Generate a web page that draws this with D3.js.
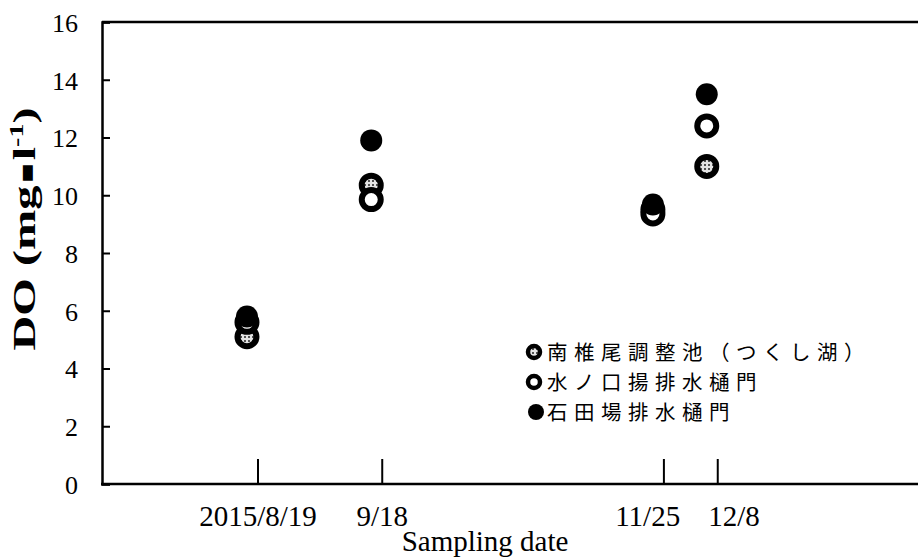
<!DOCTYPE html>
<html>
<head>
<meta charset="utf-8">
<script src="https://cdn.jsdelivr.net/npm/d3@7/dist/d3.min.js"></script>
<style>
  html, body { margin: 0; padding: 0; background: #fff; }
  svg { display: block; }
</style>
</head>
<body>
<svg id="chart" width="918" height="559"></svg>
<script>
// Sampling dates and dissolved oxygen (mg/l) at each site
const sampleDates = ["2015-08-19", "2015-09-18", "2015-11-25", "2015-12-08"];
const tickLabels = ["2015/8/19", "9/18", "11/25", "12/8"];
const seriesNames = ["南椎尾調整池（つくし湖）", "水ノ口揚排水樋門", "石田場排水樋門"];
const minamiShiio = [5.1, 10.35, 9.5, 11.0];
const mizunokuchi = [5.6, 9.85, 9.35, 12.4];
const ishidaba = [5.8, 11.9, 9.68, 13.5];
const yTicks = [0, 2, 4, 6, 8, 10, 12, 14, 16];

const parse = d3.timeParse("%Y-%m-%d");
const dates = sampleDates.map(parse);

const svg = d3.select("#chart");
const plotLeft = 102, plotRight = 918, plotTop = 22, plotBottom = 484;
const serif = "'Liberation Serif', 'Times New Roman', serif";

const x = d3.scaleTime()
  .domain([parse("2015-07-15"), parse("2016-01-28")])
  .range([plotLeft, plotRight]);
const y = d3.scaleLinear().domain([0, 16]).range([plotBottom, plotTop]);

// dotted fill used inside the lake marker
const defs = svg.append("defs");
const pat = defs.append("pattern")
  .attr("id", "dots").attr("patternUnits", "userSpaceOnUse")
  .attr("width", 4).attr("height", 4);
pat.append("rect").attr("width", 4).attr("height", 4).attr("fill", "#e4e4e4");
pat.append("circle").attr("cx", 1).attr("cy", 1).attr("r", 1).attr("fill", "#222");

// frame: top border and left axis
svg.append("line").attr("x1", plotLeft).attr("x2", plotRight).attr("y1", plotTop).attr("y2", plotTop)
  .attr("stroke", "#000").attr("stroke-width", 2.5);

const yAxis = d3.axisLeft(y).tickValues(yTicks).tickSize(-8).tickPadding(24).tickFormat(d3.format("d"));
const gy = svg.append("g").attr("transform", `translate(${plotLeft},0)`).call(yAxis);
gy.select(".domain").attr("stroke-width", 2.5);
gy.selectAll(".tick line").attr("stroke-width", 2);
gy.selectAll(".tick text")
  .attr("font-family", serif)
  .attr("font-size", 26).attr("fill", "#000").attr("text-anchor", "end")
  .attr("x", -24).attr("dy", "0.36em");

// bottom axis line
svg.append("line").attr("x1", plotLeft - 1).attr("x2", plotRight).attr("y1", plotBottom).attr("y2", plotBottom)
  .attr("stroke", "#000").attr("stroke-width", 2.5);

// date ticks rising from the axis
const tickNudge = 11;
svg.append("g").selectAll("line").data(dates).join("line")
  .attr("x1", d => x(d) + tickNudge).attr("x2", d => x(d) + tickNudge)
  .attr("y1", plotBottom - 25).attr("y2", plotBottom)
  .attr("stroke", "#000").attr("stroke-width", 2);

// date labels, centred on their ticks and spread apart where they would collide
const dateLabels = svg.append("g").selectAll("text").data(dates).join("text")
  .attr("text-anchor", "middle")
  .attr("font-family", serif)
  .attr("font-size", 29)
  .text((d, i) => tickLabels[i]);
const labelW = [];
dateLabels.each(function () { labelW.push(this.getComputedTextLength()); });
const centres = dates.map(d => x(d) + tickNudge);
const minGap = 28;
for (let pass = 0; pass < 10; pass++) {
  for (let i = 1; i < centres.length; i++) {
    const need = (labelW[i - 1] + labelW[i]) / 2 + minGap;
    const have = centres[i] - centres[i - 1];
    if (have < need) {
      const push = (need - have) / 2;
      centres[i - 1] -= push;
      centres[i] += push;
    }
  }
}
dateLabels.attr("x", (d, i) => centres[i]).attr("y", 526);

svg.append("text")
  .attr("x", 485).attr("y", 551)
  .attr("text-anchor", "middle")
  .attr("font-family", serif)
  .attr("font-size", 29).text("Sampling date");

// y-axis title, drawn wide along its run
const titleLength = 237;
const yt = svg.append("text")
  .attr("text-anchor", "middle")
  .attr("font-family", serif)
  .attr("font-size", 31).attr("font-weight", "bold");
yt.append("tspan").text("DO (mg");
yt.append("tspan").text("■").attr("font-family", "'DejaVu Sans', sans-serif")
  .attr("font-size", 13).attr("dy", -4).attr("dx", 2);
yt.append("tspan").text("l").attr("dy", 4).attr("dx", 2);
yt.append("tspan").text("-1").attr("font-size", 18).attr("dy", -12);
yt.append("tspan").text(")").attr("dy", 12);
const natural = yt.node().getComputedTextLength();
yt.attr("transform", `translate(35,229) rotate(-90) scale(${titleLength / natural},1)`);

// markers
const marks = svg.append("g");
marks.selectAll("circle.lake").data(minamiShiio).join("circle")
  .attr("class", "lake")
  .attr("cx", (d, i) => x(dates[i])).attr("cy", d => y(d))
  .attr("r", 9.5).attr("fill", "url(#dots)").attr("stroke", "#000").attr("stroke-width", 6);
marks.selectAll("circle.gate").data(mizunokuchi).join("circle")
  .attr("class", "gate")
  .attr("cx", (d, i) => x(dates[i])).attr("cy", d => y(d))
  .attr("r", 9.5).attr("fill", "#fff").attr("stroke", "#000").attr("stroke-width", 6);
marks.selectAll("circle.ishida").data(ishidaba).join("circle")
  .attr("class", "ishida")
  .attr("cx", (d, i) => x(dates[i])).attr("cy", d => y(d))
  .attr("r", 11).attr("fill", "#000");

// legend
const legend = svg.append("g");
const rowY = [352, 382, 412];
const legendStyles = [
  { r: 6, fill: "url(#dots)", stroke: "#000", sw: 4.5 },
  { r: 6, fill: "#fff", stroke: "#000", sw: 4.5 },
  { r: 8, fill: "#000", stroke: "none", sw: 0 }
];
seriesNames.forEach((name, i) => {
  const s = legendStyles[i];
  legend.append("circle").attr("cx", i === 2 ? 536 : 534).attr("cy", rowY[i])
    .attr("r", s.r).attr("fill", s.fill).attr("stroke", s.stroke).attr("stroke-width", s.sw);
  legend.append("text").attr("x", 547).attr("y", rowY[i]).attr("dy", "0.38em")
    .attr("font-family", "'Noto Sans CJK JP', sans-serif")
    .attr("font-size", 20.5).attr("letter-spacing", 6.5)
    .text(name);
});
</script>
</body>
</html>
